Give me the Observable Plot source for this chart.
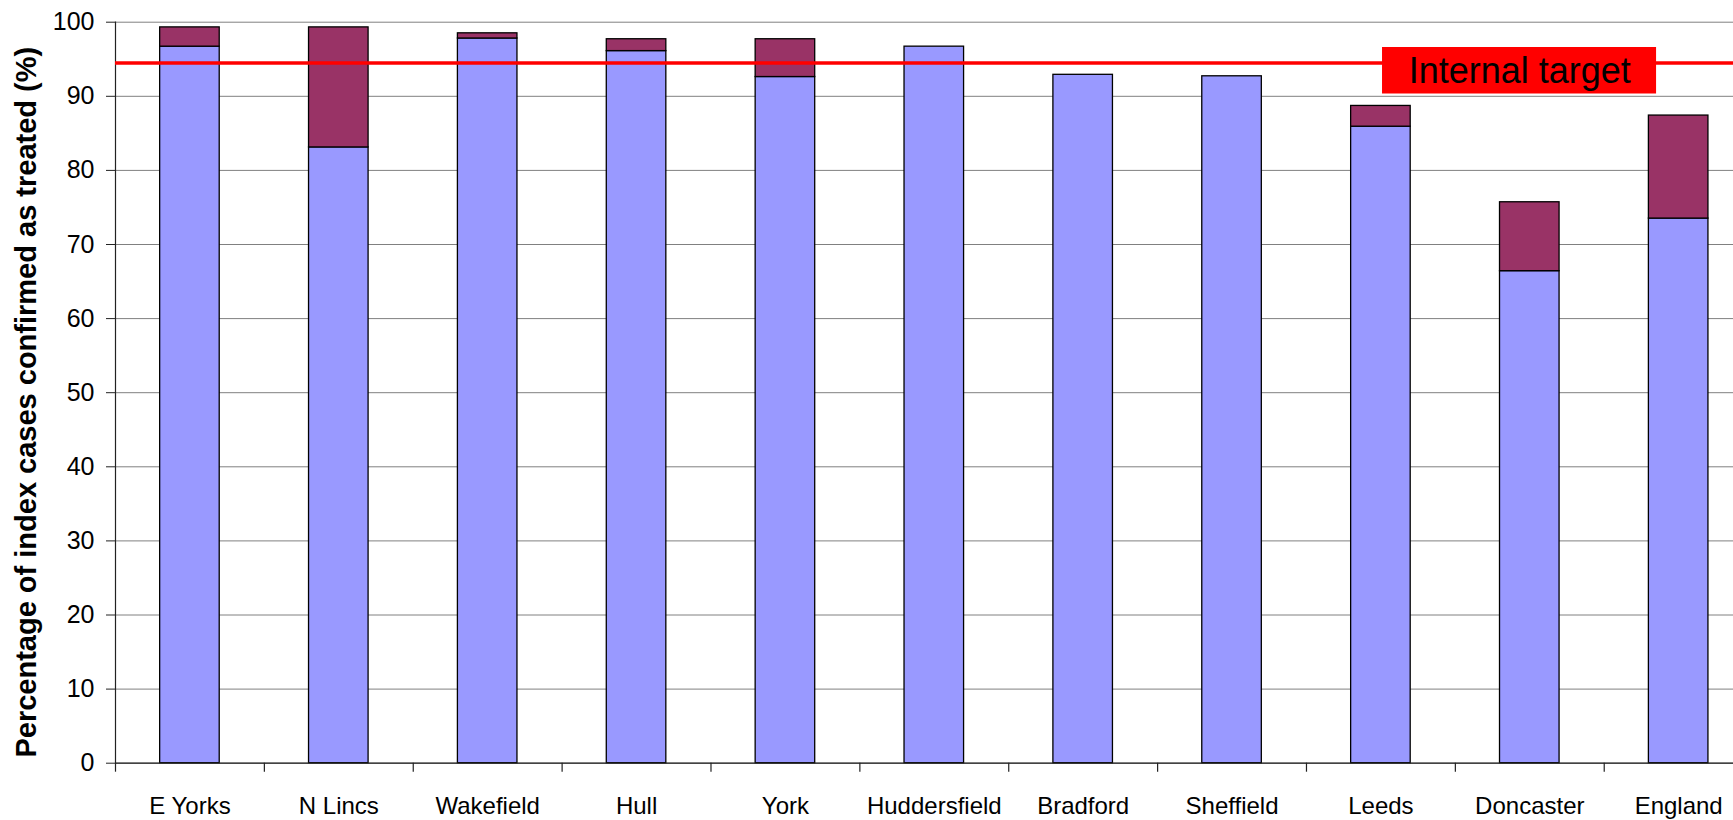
<!DOCTYPE html>
<html>
<head>
<meta charset="utf-8">
<script src="https://cdn.jsdelivr.net/npm/d3@7"></script>
<script src="https://cdn.jsdelivr.net/npm/@observablehq/plot@0.6"></script>
<style>
  html, body { margin: 0; padding: 0; background: white; overflow: hidden; }
  #chart svg { display: block; overflow: hidden; }
</style>
</head>
<body>
<div id="chart"></div>
<script>
// ---- data ----
const categories = ["E Yorks", "N Lincs", "Wakefield", "Hull", "York", "Huddersfield", "Bradford", "Sheffield", "Leeds", "Doncaster", "England"];
const seriesNames = ["Confirmed treated", "Additional confirmed"];
const treated    = [96.7, 83.1, 97.8, 96.1, 92.6, 96.7, 92.9, 92.7, 85.9, 66.4, 73.5];
const additional = [2.6, 16.2, 0.7, 1.6, 5.1, 0, 0, 0, 2.8, 9.3, 13.9];
const yTicks = [0, 10, 20, 30, 40, 50, 60, 70, 80, 90, 100];
const target = 94.5;
const targetLabel = "Internal target";
const yLabel = "Percentage of index cases confirmed as treated (%)";

// ---- layout ----
const W = 1733, H = 820;
const mLeft = 115, mTop = 21.7, mBottom = H - 762.7;
const xEnd = 1752.6;
const step = (xEnd - mLeft) / categories.length;

const rows = categories.flatMap((c, i) => [
  {cat: c, series: seriesNames[0], value: treated[i]},
  {cat: c, series: seriesNames[1], value: additional[i]}
]).filter(d => d.value > 0);

const chart = Plot.plot({
  width: W,
  height: H,
  marginLeft: mLeft,
  marginRight: 0,
  marginTop: mTop,
  marginBottom: mBottom,
  style: {fontFamily: "'Liberation Sans', Arial, sans-serif", background: "white", color: "black"},
  x: {domain: categories, range: [mLeft, xEnd], paddingInner: 0.6, paddingOuter: 0.3, round: false, label: null},
  y: {domain: [0, 100], label: null},
  color: {domain: seriesNames, range: ["#9999ff", "#993366"]},
  marks: [
    Plot.gridY(yTicks, {stroke: "#808080", strokeOpacity: 1, strokeWidth: 1}),
    Plot.barY(rows, {x: "cat", y: "value", fill: "series", stroke: "black", strokeWidth: 1.3}),
    Plot.ruleY([0], {stroke: "#222", strokeWidth: 1.2}),
    Plot.frame({anchor: "left", stroke: "#222", strokeWidth: 1.2}),
    Plot.ruleX(categories, {x: d => d, y1: 0, y2: 0, insetBottom: -9, dx: -step / 2, stroke: "#222", strokeWidth: 1.2}),
    Plot.axisY(yTicks, {tickSize: 9, tickPadding: 12, fontSize: 25, stroke: "#222", label: null}),
    Plot.axisX({tickSize: 0, tickPadding: 34, fontSize: 24, label: null}),
    Plot.text([yLabel], {frameAnchor: "left", textAnchor: "middle", rotate: -90, dx: -89, dy: 9.5, fontSize: 29, fontWeight: "bold", fill: "black"}),
    Plot.ruleY([target], {stroke: "#ff0000", strokeWidth: 3.6}),
    Plot.tickY([target], {x: ["Doncaster"], y: d => d, stroke: "#ff0000", strokeWidth: 46.6, insetLeft: -117.5, insetRight: -97, dy: 7.3}),
    Plot.text([targetLabel], {x: ["Doncaster"], y: [target], text: d => d, dx: -10, dy: 9, fontSize: 36, fill: "black"})
  ]
});
document.getElementById("chart").appendChild(chart);
</script>
</body>
</html>
